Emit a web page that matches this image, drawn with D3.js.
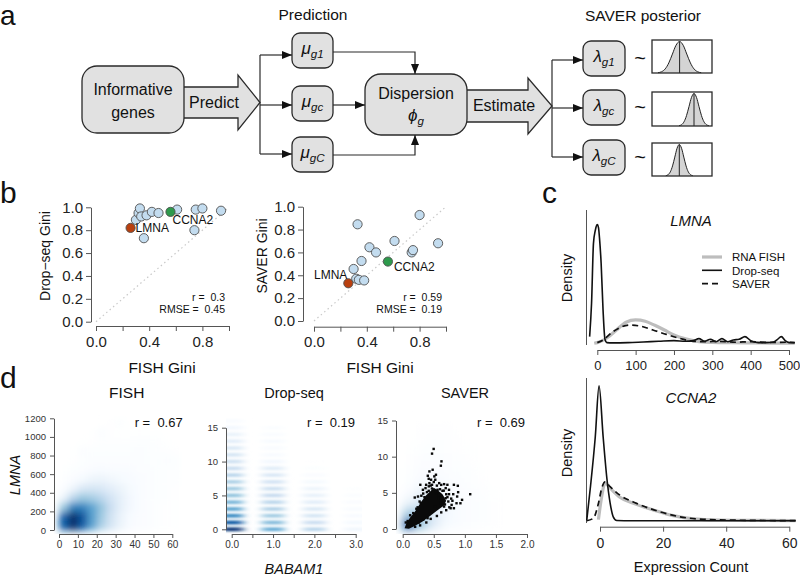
<!DOCTYPE html>
<html><head><meta charset="utf-8">
<script src="https://cdn.jsdelivr.net/npm/d3@7"></script>
<style>
body{margin:0;background:#fff}
svg{display:block}
text{font-family:'Liberation Sans',Arial,Helvetica,sans-serif;white-space:pre}
</style></head>
<body><svg id="c" width="800" height="577"></svg>
<script>
// ================= DATA =================
// Panel a: schematic
const predSubs = ["g1","gc","gC"];
const posteriorCenter = [0.46, 0.70, 0.455];      // relative mode position in each posterior box
const posteriorSpread = [0.12, 0.083, 0.075];     // relative spread
const posteriorShapeZ = [-3,-2.5,-2,-1.5,-1,-0.5,0,0.5,1,1.5,2,2.5,3];
const posteriorShapeH = [0.01,0.04,0.13,0.32,0.6,0.88,1,0.88,0.6,0.32,0.13,0.04,0.01];

// Panel b: Gini coefficients
const fishGini  = [0.30,0.32,0.33,0.34,0.36,0.38,0.42,0.47,0.61,0.74,0.75,0.80,0.94];
const dropGini  = [0.89,0.95,0.99,0.92,0.73,0.93,0.96,0.95,0.98,0.80,0.98,0.99,0.97];
const saverGini = [0.455,0.37,0.846,0.36,0.525,0.355,0.645,0.60,0.70,0.60,0.62,0.927,0.68];
const hiGenes = ["LMNA","CCNA2"];
const hiFish  = [0.26, 0.56];
const hiDrop  = [0.82, 0.96];
const hiSaver = [0.33, 0.52];
const giniR    = ["0.3","0.59"];
const giniRMSE = ["0.45","0.19"];
const giniTicks = [0,0.2,0.4,0.6,0.8,1.0];
const giniXLabels = ["0.0","0.4","0.8"];

// Panel c: densities (relative units)
const lmnaDrop = [[-20,0.05],[-15,0.3],[-10,0.75],[-5,0.85],[0,0.89],[3,0.87],[6,0.78],[10,0.6],[15,0.25],[20,0.03],[25,0.005],[40,0.003],[80,0.005],[120,0.01],[160,0.015],[200,0.02],[230,0.015],[250,0.02],[265,0.035],[280,0.015],[295,0.03],[310,0.012],[325,0.035],[340,0.012],[355,0.025],[370,0.03],[385,0.05],[400,0.02],[420,0.005],[440,0.005],[460,0.01],[470,0.03],[480,0.05],[490,0.02],[500,0.005],[515,0.004]];
const lmnaFish = [[-8,0],[0,0.005],[25,0.04],[50,0.1],[75,0.158],[100,0.175],[125,0.165],[150,0.135],[175,0.1],[200,0.062],[230,0.033],[265,0.013],[300,0.006],[350,0.004],[400,0.003],[450,0.002],[500,0.002],[515,0.002]];
const lmnaSaver = [[0,0.005],[15,0.025],[40,0.085],[65,0.125],[85,0.137],[110,0.13],[145,0.1],[180,0.067],[215,0.037],[250,0.015],[280,0.012],[320,0.015],[360,0.008],[400,0.012],[450,0.006],[500,0.008],[515,0.005]];
const ccnaDrop = [[-4.2,0.005],[-3,0.25],[-1.5,0.6],[-0.3,0.965],[1,0.6],[2.2,0.3],[3.2,0.13],[4.2,0.03],[5.3,0.004],[10,0.002],[20,0.002],[40,0.002],[62,0.002]];
const ccnaFish = [[-0.5,0.01],[0.5,0.17],[1.6,0.27],[3.2,0.235],[6.3,0.17],[10.6,0.126],[16.9,0.079],[23.2,0.038],[29.6,0.015],[38,0.007],[50,0.004],[62,0.003]];
const ccnaSaver = [[-4.2,0.002],[-2.1,0.02],[-0.5,0.126],[0.5,0.23],[1.6,0.28],[3.2,0.245],[6.3,0.185],[11.6,0.126],[19,0.066],[25.4,0.03],[32.7,0.012],[40,0.007],[50,0.004],[62,0.003]];
const legendNames = ["RNA FISH","Drop-seq","SAVER"];
const lmnaTicks = [0,100,200,300,400,500];
const ccnaTicks = [0,20,40,60];

// Panel d: smoothed scatter densities (estimated intensities 0..1)
const fishGridX = [2.5,7.5,12.5,17.5,22.5,27.5,32.5,37.5,42.5,47.5,52.5,57.5,62.5];
const fishGridY = [50,150,250,350,450,550,650,750,850,950,1050,1150];
const fishDensity = [
 [0.85,1.00,0.85,0.60,0.40,0.26,0.16,0.10,0.07,0.05,0.03,0.02,0.01],
 [0.82,1.00,0.88,0.62,0.44,0.28,0.17,0.11,0.07,0.05,0.03,0.02,0.01],
 [0.45,0.72,0.72,0.60,0.46,0.31,0.19,0.13,0.08,0.05,0.03,0.02,0.01],
 [0.16,0.36,0.45,0.42,0.36,0.27,0.19,0.13,0.09,0.06,0.04,0.03,0.02],
 [0.06,0.15,0.24,0.26,0.24,0.20,0.16,0.12,0.09,0.06,0.04,0.03,0.02],
 [0.03,0.07,0.12,0.15,0.16,0.14,0.12,0.10,0.08,0.06,0.04,0.03,0.03],
 [0.01,0.04,0.06,0.09,0.10,0.09,0.08,0.08,0.06,0.05,0.04,0.03,0.03],
 [0.00,0.02,0.04,0.06,0.06,0.06,0.06,0.06,0.05,0.04,0.04,0.05,0.04],
 [0.00,0.01,0.05,0.04,0.04,0.04,0.04,0.04,0.05,0.04,0.03,0.03,0.02],
 [0.00,0.00,0.01,0.02,0.03,0.03,0.03,0.03,0.04,0.04,0.03,0.01,0.00],
 [0.00,0.00,0.00,0.01,0.05,0.02,0.01,0.01,0.02,0.01,0.01,0.00,0.00],
 [0.00,0.00,0.00,0.00,0.00,0.02,0.04,0.00,0.00,0.00,0.00,0.00,0.00]];
const dropCols = [0,1,2,3];
const dropRows = [0,1,2,3,4,5,6,7,8,9,10,11,12,13,14,15,16];
const dropDensity = [
 [0.97,0.85,0.68,0.58,0.52,0.47,0.44,0.40,0.36,0.32,0.29,0.26,0.23,0.20,0.17,0.13,0.08],
 [0.56,0.50,0.43,0.39,0.36,0.33,0.30,0.27,0.24,0.21,0.13,0.10,0.08,0.11,0.09,0.05,0.00],
 [0.36,0.31,0.26,0.23,0.20,0.18,0.15,0.12,0.07,0.04,0.02,0.00,0.00,0.00,0.00,0.00,0.00],
 [0.14,0.12,0.10,0.08,0.07,0.05,0.03,0.00,0.00,0.00,0.00,0.00,0.00,0.00,0.00,0.00,0.00]];
const saverGridX = [0.1,0.3,0.5,0.7,0.9,1.1,1.3,1.5,1.7,1.9];
const saverGridY = [0.75,2.25,3.75,5.25,6.75,8.25,9.75,11.25,12.75,14.25];
const saverDensity = [
 [0.85,0.45,0.22,0.12,0.08,0.05,0.03,0.015,0,0],
 [0.42,0.38,0.22,0.13,0.08,0.06,0.035,0.015,0,0],
 [0.16,0.26,0.20,0.14,0.09,0.06,0.04,0.015,0,0],
 [0.07,0.16,0.16,0.11,0.07,0.045,0.03,0.01,0,0],
 [0.04,0.10,0.11,0.08,0.05,0.03,0.015,0,0,0],
 [0.03,0.07,0.07,0.06,0.04,0.025,0.01,0,0,0],
 [0.015,0.045,0.055,0.045,0.03,0.015,0,0,0,0],
 [0.01,0.03,0.04,0.03,0.015,0.01,0,0,0,0],
 [0,0.015,0.03,0.03,0.015,0,0,0,0,0],
 [0,0.015,0.015,0.015,0,0,0,0,0,0]];
const saverCore = [[0.03,0.1],[0.06,0.8],[0.12,1.6],[0.19,2.3],[0.25,3.1],[0.31,3.9],[0.37,4.6],[0.44,5.2],[0.5,5.7],[0.56,5.4],[0.64,4.8],[0.7,3.9],[0.66,3.2],[0.56,2.6],[0.44,1.8],[0.32,1.05],[0.2,0.45],[0.1,0.05]];
const saverPts = [[0.498,11.07],[0.472,10.42],[0.624,9.35],[0.614,8.75],[0.482,8.19],[0.43,7.96],[0.404,7.36],[0.509,7.27],[0.456,6.81],[0.283,6.11],[0.377,6.11],[0.587,6.34],[0.666,6.2],[0.719,6.11],[0.824,6.11],[0.887,5.97],[0.561,5.42],[0.64,5.28],[0.745,4.81],[0.813,4.81],[0.892,5.09],[0.876,4.49],[0.929,3.56],[0.866,3.56],[0.787,3.33],[0.824,2.87],[1.086,4.81],[0.692,4.26],[0.734,3.8],[0.656,3.7],[0.587,4.72],[0.535,5.09],[0.325,5.42],[0.367,5.65],[0.419,5.28],[0.194,4.35],[0.246,4.49],[0.272,3.8],[0.955,4.03],[0.771,2.87],[0.666,3.1],[0.43,6.34],[0.472,6.11],[0.419,6.94],[0.535,7.5],[0.524,6.81],[0.692,5.65],[0.745,5.42],[0.3,4.6],[0.33,4.9],[0.42,5.9],[0.45,6.0],[0.5,6.5],[0.55,6.0],[0.6,5.5],[0.62,6.1],[0.66,5.3],[0.7,4.8],[0.72,4.4],[0.78,4.2],[0.8,3.9],[0.75,3.0],[0.7,2.6],[0.62,2.3],[0.55,1.8],[0.45,1.4],[0.38,0.9],[0.28,0.5],[0.2,0.3],[0.22,2.8],[0.17,2.2],[0.12,1.9],[0.08,1.1],[0.05,0.9],[0.58,4.3],[0.61,3.6],[0.68,3.4],[0.52,3.1],[0.47,2.4],[0.4,1.5],[0.33,1.3],[0.26,0.9],[0.63,4.5],[0.54,4.9],[0.47,5.6],[0.39,5.1],[0.35,4.4],[0.29,3.6],[0.24,3.0]];
const fishXTicks = [0,10,20,30,40,50,60];
const fishYTicks = [0,200,400,600,800,1000,1200];
const dropXTicks = [0,0.5,1,1.5,2,2.5,3];
const dropXLabels = ["0.0","1.0","2.0","3.0"];
const countYTicks = [0,5,10,15];
const saverXTicks = [0,0.5,1,1.5,2];
const scatterR = ["0.67","0.19","0.69"];

// ================= DRAW =================
const FONT = "'Liberation Sans',Arial,Helvetica,sans-serif";
const svg = d3.select("#c");
const defs = svg.append("defs");
defs.append("marker").attr("id","arr").attr("markerUnits","userSpaceOnUse")
  .attr("markerWidth",10).attr("markerHeight",8).attr("refX",10).attr("refY",4).attr("orient","auto")
  .append("path").attr("d","M0,0 L10,4 L0,8 Z").attr("fill","#111");

function T(g,x,y,s,o={}){
  const t=g.append("text").attr("x",x).attr("y",y).text(s)
   .attr("font-size",o.size||14).attr("text-anchor",o.anchor||"start").attr("fill",o.fill||"#111");
  if(o.italic) t.attr("font-style","italic");
  if(o.rotate) t.attr("transform",`rotate(-90,${x},${y})`);
  return t;
}
function styleAxis(g,size,col="#555",txt="#222"){
  g.attr("font-family",FONT).attr("font-size",size);
  g.select(".domain").attr("stroke",col);
  g.selectAll(".tick line").attr("stroke",col);
  g.selectAll(".tick text").attr("fill",txt);
}
const ramp = d3.piecewise(d3.interpolateRgb,["#ffffff","#F7FBFF","#DEEBF7","#C6DBEF","#9ECAE1","#6BAED6","#4292C6","#2171B5","#08519C","#08306B"]);

// ---------- panel letters ----------
T(svg,0,25,"a",{size:28}); T(svg,0,203,"b",{size:30}); T(svg,542,203,"c",{size:30}); T(svg,0,388,"d",{size:30});

// ---------- Panel a ----------
const A = svg.append("g");
const boxFill="#e1e1e1", ink="#2a2a2a";
function blockArrow(x0,bt,bb,xh,ht,hb,xt){const yt=(ht+hb)/2;return `M${x0},${bt} H${xh} V${ht} L${xt},${yt} L${xh},${hb} V${bb} H${x0} Z`;}
A.append("path").attr("d",blockArrow(180,87,118,238,75,130,260)).attr("fill",boxFill).attr("stroke",ink).attr("stroke-width",1.3);
A.append("path").attr("d",blockArrow(463,90,122,528,78,134,552)).attr("fill",boxFill).attr("stroke",ink).attr("stroke-width",1.3);
function rbox(x,y,w,h,r){A.append("rect").attr("x",x).attr("y",y).attr("width",w).attr("height",h).attr("rx",r).attr("fill",boxFill).attr("stroke",ink).attr("stroke-width",1.3);}
rbox(82,66,102,67,15);
rbox(365,74,102,61,16);
const muY=[33,86,137], lamY=[41,90,140];
muY.forEach(y=>rbox(292,y,41,35,8));
lamY.forEach(y=>rbox(583,y,42,35,8));
const line=(d)=>A.append("path").attr("d",d).attr("fill","none").attr("stroke",ink).attr("stroke-width",1.2);
line("M260,55 V154");
[55,105,154].forEach(y=>line(`M260,${y} H292`).attr("marker-end","url(#arr)"));
line("M333,52 H415 V74").attr("marker-end","url(#arr)");
line("M333,155 H415 V135").attr("marker-end","url(#arr)");
line("M333,105 H365").attr("marker-end","url(#arr)");
line("M552,60 V157");
[60,108,157].forEach(y=>line(`M552,${y} H583`).attr("marker-end","url(#arr)"));

T(A,133,95,"Informative",{size:16,anchor:"middle"});
T(A,133,118,"genes",{size:16,anchor:"middle"});
T(A,214,108,"Predict",{size:16,anchor:"middle"});
T(A,416,99,"Dispersion",{size:16,anchor:"middle"});
T(A,504,111,"Estimate",{size:16,anchor:"middle"});
T(A,313,20,"Prediction",{size:15.5,anchor:"middle"});
T(A,643,21,"SAVER posterior",{size:15.5,anchor:"middle"});
function greek(g,x,y,sym,sub,size){
  const t=g.append("text").attr("x",x).attr("y",y).attr("text-anchor","middle").attr("fill","#111").attr("font-size",size);
  t.append("tspan").attr("font-style","italic").text(sym);
  t.append("tspan").attr("font-style","italic").attr("font-size",size*0.68).attr("dy",4).text(sub);
}
greek(A,416,121,"ϕ","g",17);
predSubs.forEach((s,i)=>greek(A,312.5,muY[i]+21,"μ",s,17));
predSubs.forEach((s,i)=>greek(A,604,lamY[i]+21,"λ",s,17));
lamY.forEach(y=>T(A,640,y+24,"~",{size:20,anchor:"middle"}));
const postY=[[40,33],[92,34],[143,33]];
postY.forEach(([y,h],i)=>{
  const xs=d3.scaleLinear().domain([0,1]).range([652,712]);
  const ys=d3.scaleLinear().domain([0,1]).range([y+h,y+1.5]);
  const pts=posteriorShapeZ.map((z,k)=>[posteriorCenter[i]+z*posteriorSpread[i],posteriorShapeH[k]]);
  A.append("path").datum(pts).attr("d",d3.area().x(d=>xs(d[0])).y0(ys(0)).y1(d=>ys(d[1])).curve(d3.curveMonotoneX)).attr("fill","#d4d4d4");
  A.append("path").datum(pts).attr("d",d3.line().x(d=>xs(d[0])).y(d=>ys(d[1])).curve(d3.curveMonotoneX)).attr("fill","none").attr("stroke","#222").attr("stroke-width",1);
  A.append("line").attr("x1",xs(posteriorCenter[i])).attr("x2",xs(posteriorCenter[i])).attr("y1",ys(0)).attr("y2",ys(1)).attr("stroke","#222").attr("stroke-width",1);
  A.append("rect").attr("x",652).attr("y",y).attr("width",60).attr("height",h).attr("fill","none").attr("stroke",ink).attr("stroke-width",1.3);
});

// ---------- Panel b ----------
const B = svg.append("g");
const bPanels=[
 {yv:dropGini, hy:hiDrop, x0:96,x1:229,y0:321.7,y1:207.3, ax:91, ay:326, ylab:"Drop−seq Gini", ylx:50, tx:162,
  rx:225, ry:301, lab:[[5,4.5,"start"],[2,12,"start"]]},
 {yv:saverGini, hy:hiSaver, x0:314,x1:446,y0:321,y1:206.7, ax:303, ay:326.7, ylab:"SAVER Gini", ylx:267, tx:380,
  rx:442, ry:300.5, lab:[[-1,-4,"end"],[6,9,"start"]]}];
const hiCol=["#b9400f","#2e9a4c"];
bPanels.forEach((p,pi)=>{
  const x=d3.scaleLinear().domain([0,1]).range([p.x0,p.x1]);
  const y=d3.scaleLinear().domain([0,1]).range([p.y0,p.y1]);
  B.append("line").attr("x1",x(0)).attr("y1",y(0)).attr("x2",x(1)).attr("y2",y(1)).attr("stroke","#c9c9c9").attr("stroke-width",1.2).attr("stroke-dasharray","1.5,3");
  const gy=B.append("g").attr("transform",`translate(${p.ax},0)`).call(d3.axisLeft(y).tickValues(giniTicks).tickFormat(d3.format(".1f")).tickSize(5).tickPadding(3).tickSizeOuter(0));
  styleAxis(gy,15);
  const gx=B.append("g").attr("transform",`translate(0,${p.ay})`).call(d3.axisBottom(x).tickValues(giniTicks).tickFormat(d=>giniXLabels.includes(d3.format(".1f")(d))?d3.format(".1f")(d):"").tickSize(5).tickPadding(5).tickSizeOuter(0));
  styleAxis(gx,15);
  B.selectAll(null).data(fishGini).enter().append("circle").attr("cx",(d)=>x(d)).attr("cy",(d,i)=>y(p.yv[i])).attr("r",4.6)
    .attr("fill","#c3dcef").attr("stroke","#505050").attr("stroke-width",0.9);
  hiGenes.forEach((g,i)=>{
    B.append("circle").attr("cx",x(hiFish[i])).attr("cy",y(p.hy[i])).attr("r",4.6).attr("fill",hiCol[i]).attr("stroke","#505050").attr("stroke-width",0.9);
    const [dx,dy,an]=p.lab[i];
    T(B,x(hiFish[i])+dx,y(p.hy[i])+dy,g,{size:12,anchor:an});
  });
  T(B,p.rx,p.ry,"r =  "+giniR[pi],{size:10.5,anchor:"end"});
  T(B,p.rx,p.ry+12.4,"RMSE =  "+giniRMSE[pi],{size:10.5,anchor:"end"});
  T(B,p.tx,373,"FISH Gini",{size:15.5,anchor:"middle"});
  T(B,p.ylx,256,p.ylab,{size:14,anchor:"middle",rotate:true});
});

// ---------- Panel c ----------
const C = svg.append("g");
const cPanels=[
 {title:"LMNA", ty:226, xd:[0,500], xr:[597.3,789], base:343.3, top:210, ax:350, yTop:210, yBot:345, ticks:lmnaTicks, dens:[lmnaFish,lmnaDrop,lmnaSaver], dy:278, legend:true, fs:13},
 {title:"CCNA2", ty:403, xd:[0,60], xr:[600,789.3], base:521, top:381, ax:526.7, yTop:378, yBot:523, ticks:ccnaTicks, dens:[ccnaFish,ccnaDrop,ccnaSaver], dy:453, legend:false, fs:14}];
const cStyle=[{stroke:"#bdbdbd",w:3.2,dash:null},{stroke:"#111",w:1.6,dash:null},{stroke:"#111",w:1.7,dash:"6,4"}];
cPanels.forEach(p=>{
  const x=d3.scaleLinear().domain(p.xd).range(p.xr);
  const y=d3.scaleLinear().domain([0,1]).range([p.base,p.top]);
  C.append("line").attr("x1",586.5).attr("x2",586.5).attr("y1",p.yTop).attr("y2",p.yBot).attr("stroke","#555");
  const gx=C.append("g").attr("transform",`translate(0,${p.ax})`).call(d3.axisBottom(x).tickValues(p.ticks).tickSize(5).tickPadding(6).tickSizeOuter(0));
  styleAxis(gx,p.fs);
  p.dens.forEach((d,i)=>{
    C.append("path").datum(d).attr("d",d3.line().x(v=>x(v[0])).y(v=>y(v[1])).curve(d3.curveMonotoneX))
     .attr("fill","none").attr("stroke",cStyle[i].stroke).attr("stroke-width",cStyle[i].w).attr("stroke-dasharray",cStyle[i].dash);
  });
  T(C,691,p.ty,p.title,{size:15,anchor:"middle",italic:true});
  T(C,572,p.dy,"Density",{size:14.5,anchor:"middle",rotate:true});
  if(p.legend){
    legendNames.forEach((n,i)=>{
      const yy=257+i*13.3;
      C.append("line").attr("x1",702).attr("x2",722).attr("y1",yy).attr("y2",yy).attr("stroke",cStyle[i].stroke).attr("stroke-width",cStyle[i].w).attr("stroke-dasharray",cStyle[i].dash);
      T(C,732,yy+4.2,n,{size:11.5});
    });
  }
});
T(C,691,572,"Expression Count",{size:14.5,anchor:"middle"});

// ---------- Panel d ----------
const D = svg.append("g");
function clip(id,x,y,w,h){defs.append("clipPath").attr("id",id).append("rect").attr("x",x).attr("y",y).attr("width",w).attr("height",h);}
function blur(id,sx,sy){defs.append("filter").attr("id",id).attr("x","-20%").attr("y","-20%").attr("width","140%").attr("height","140%")
  .append("feGaussianBlur").attr("stdDeviation",`${sx} ${sy}`);}
// FISH
{
  const x=d3.scaleLinear().domain([0,60]).range([59,172.3]);
  const y=d3.scaleLinear().domain([0,1200]).range([530,418.3]);
  clip("clF",54,411,128,123); blur("blF",3.5,3.5);
  const g=D.append("g").attr("clip-path","url(#clF)").append("g").attr("filter","url(#blF)");
  fishDensity.forEach((row,j)=>row.forEach((t,i)=>{ if(t<=0) return;
    g.append("rect").attr("x",x(fishGridX[i]-2.5)).attr("y",y(fishGridY[j]+50)).attr("width",x(fishGridX[i]+2.5)-x(fishGridX[i]-2.5)+0.5).attr("height",y(fishGridY[j]-50)-y(fishGridY[j]+50)+0.5).attr("fill",ramp(t));}));
  styleAxis(D.append("g").attr("transform","translate(54,0)").call(d3.axisLeft(y).tickValues(fishYTicks).tickFormat(d3.format("d")).tickSize(4).tickPadding(4).tickSizeOuter(0)),9.5,"#555","#333");
  styleAxis(D.append("g").attr("transform","translate(0,534)").call(d3.axisBottom(x).tickValues(fishXTicks).tickSize(4).tickPadding(3).tickSizeOuter(0)),10,"#555","#333");
  T(D,126.7,398,"FISH",{size:15.5,anchor:"middle"});
  T(D,182.7,427,"r =  "+scatterR[0],{size:13,anchor:"end"});
  T(D,20,475,"LMNA",{size:14.5,anchor:"middle",italic:true,rotate:true});
}
// Drop-seq
{
  const x=d3.scaleLinear().domain([0,3]).range([231.7,355.7]);
  const y=d3.scaleLinear().domain([0,15]).range([529.3,427.7]);
  clip("clD",226,411,136,123); blur("blD",4.5,1.1);
  const g=D.append("g").attr("clip-path","url(#clD)").append("g").attr("filter","url(#blD)");
  dropDensity.forEach((col,ci)=>col.forEach((t,ri)=>{ if(t<=0) return;
    g.append("rect").attr("x",x(dropCols[ci]-0.27)).attr("y",y(dropRows[ri]+0.28)).attr("width",x(dropCols[ci]+0.27)-x(dropCols[ci]-0.27)).attr("height",y(dropRows[ri]-0.28)-y(dropRows[ri]+0.28)).attr("fill",ramp(t));}));
  styleAxis(D.append("g").attr("transform","translate(226,0)").call(d3.axisLeft(y).tickValues(countYTicks).tickSize(4).tickPadding(4).tickSizeOuter(0)),9.5,"#555","#333");
  styleAxis(D.append("g").attr("transform","translate(0,534)").call(d3.axisBottom(x).tickValues(dropXTicks).tickFormat(d=>dropXLabels.includes(d3.format(".1f")(d))?d3.format(".1f")(d):"").tickSize(4).tickPadding(3).tickSizeOuter(0)),10,"#555","#333");
  T(D,294,398,"Drop-seq",{size:14.5,anchor:"middle"});
  T(D,355,427,"r =  "+scatterR[1],{size:13,anchor:"end"});
  T(D,294,573.5,"BABAM1",{size:14.5,anchor:"middle",italic:true});
}
// SAVER
{
  const x=d3.scaleLinear().domain([0,2]).range([402.7,527]);
  const y=d3.scaleLinear().domain([0,15]).range([529,420.5]);
  clip("clS",396,411,136,123); blur("blS",5,5);
  const g=D.append("g").attr("clip-path","url(#clS)").append("g").attr("filter","url(#blS)");
  saverDensity.forEach((row,j)=>row.forEach((t,i)=>{ if(t<=0) return;
    g.append("rect").attr("x",x(saverGridX[i]-0.1)).attr("y",y(saverGridY[j]+0.75)).attr("width",x(saverGridX[i]+0.1)-x(saverGridX[i]-0.1)+0.5).attr("height",y(saverGridY[j]-0.75)-y(saverGridY[j]+0.75)+0.5).attr("fill",ramp(t));}));
  const pg=D.append("g").attr("clip-path","url(#clS)");
  pg.append("path").datum(saverCore).attr("d",d3.line().x(d=>x(d[0])).y(d=>y(d[1])).curve(d3.curveLinearClosed)).attr("fill","#0a0a0a");
  pg.selectAll(null).data(saverPts).enter().append("rect").attr("x",d=>x(d[0])-1.2).attr("y",d=>y(d[1])-1.2).attr("width",2.4).attr("height",2.4).attr("fill","#0a0a0a");
  styleAxis(D.append("g").attr("transform","translate(396,0)").call(d3.axisLeft(y).tickValues(countYTicks).tickSize(4).tickPadding(4).tickSizeOuter(0)),9.5,"#555","#333");
  styleAxis(D.append("g").attr("transform","translate(0,534)").call(d3.axisBottom(x).tickValues(saverXTicks).tickFormat(d3.format(".1f")).tickSize(4).tickPadding(3).tickSizeOuter(0)),10,"#555","#333");
  T(D,465,398,"SAVER",{size:14.5,anchor:"middle"});
  T(D,525,427,"r =  "+scatterR[2],{size:13,anchor:"end"});
}
</script></body></html>
